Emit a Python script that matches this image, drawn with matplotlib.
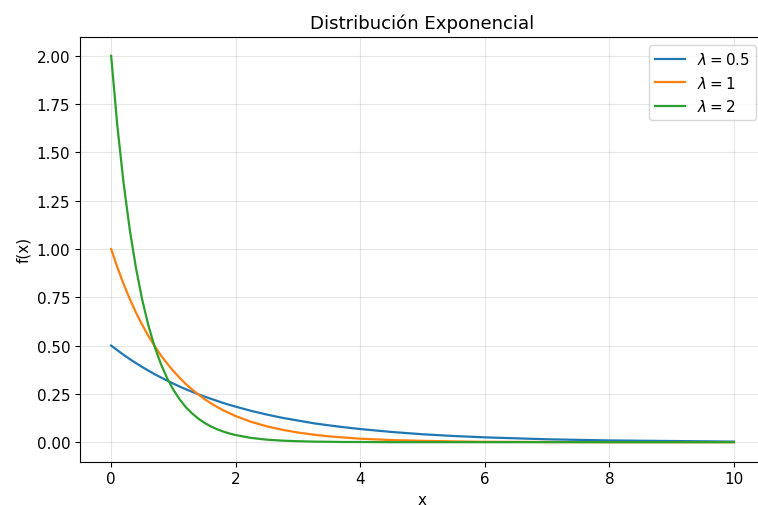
import matplotlib.pyplot as plt

# sampled readings of each density curve
x = [0, 0.1, 0.2, 0.3, 0.4, 0.5, 0.6, 0.7, 0.8, 0.9, 1.0,
     1.1, 1.2, 1.3, 1.4, 1.5, 1.6, 1.7, 1.8, 1.9, 2.0,
     2.25, 2.5, 2.75, 3.0, 3.25, 3.5, 3.75, 4.0, 4.5, 5.0, 5.5, 6.0,
     7.0, 8.0, 9.0, 10.0]
f_05 = [0.500, 0.476, 0.452, 0.430, 0.409, 0.389, 0.370, 0.352, 0.335, 0.319, 0.303,
        0.288, 0.274, 0.261, 0.248, 0.236, 0.225, 0.214, 0.203, 0.193, 0.184,
        0.162, 0.143, 0.126, 0.112, 0.098, 0.087, 0.077, 0.068, 0.053, 0.041, 0.032, 0.025,
        0.015, 0.009, 0.006, 0.003]
f_1 = [1.000, 0.905, 0.819, 0.741, 0.670, 0.607, 0.549, 0.497, 0.449, 0.407, 0.368,
       0.333, 0.301, 0.273, 0.247, 0.223, 0.202, 0.183, 0.165, 0.150, 0.135,
       0.105, 0.082, 0.064, 0.050, 0.039, 0.030, 0.024, 0.018, 0.011, 0.007, 0.004, 0.002,
       0.001, 0.000, 0.000, 0.000]
f_2 = [2.000, 1.637, 1.341, 1.098, 0.899, 0.736, 0.602, 0.493, 0.404, 0.331, 0.271,
       0.222, 0.181, 0.149, 0.122, 0.100, 0.082, 0.067, 0.055, 0.045, 0.037,
       0.022, 0.013, 0.008, 0.005, 0.003, 0.002, 0.001, 0.001, 0.000, 0.000, 0.000, 0.000,
       0.000, 0.000, 0.000, 0.000]
labels = [r'$\lambda = 0.5$', r'$\lambda = 1$', r'$\lambda = 2$']

plt.rcParams['font.size'] = 10.9

fig = plt.figure(figsize=(7.58, 5.06), dpi=100)
ax = fig.add_axes([80/758, (506-462.5)/506, (765-80)/758, (462.5-37.5)/506])

for ys, lab in zip([f_05, f_1, f_2], labels):
    ax.plot(x, ys, label=lab, linewidth=1.6)

ax.set_xlim(-0.5, 10.5)
ax.set_ylim(-0.1, 2.1)
ax.set_title('Distribución Exponencial', fontsize=13.1)
ax.set_xlabel('x')
ax.set_ylabel('f(x)')
ax.grid(True, alpha=0.3)
ax.legend(loc='upper right', bbox_to_anchor=(0.998, 0.998))

fig.savefig('out.png', dpi=100)
